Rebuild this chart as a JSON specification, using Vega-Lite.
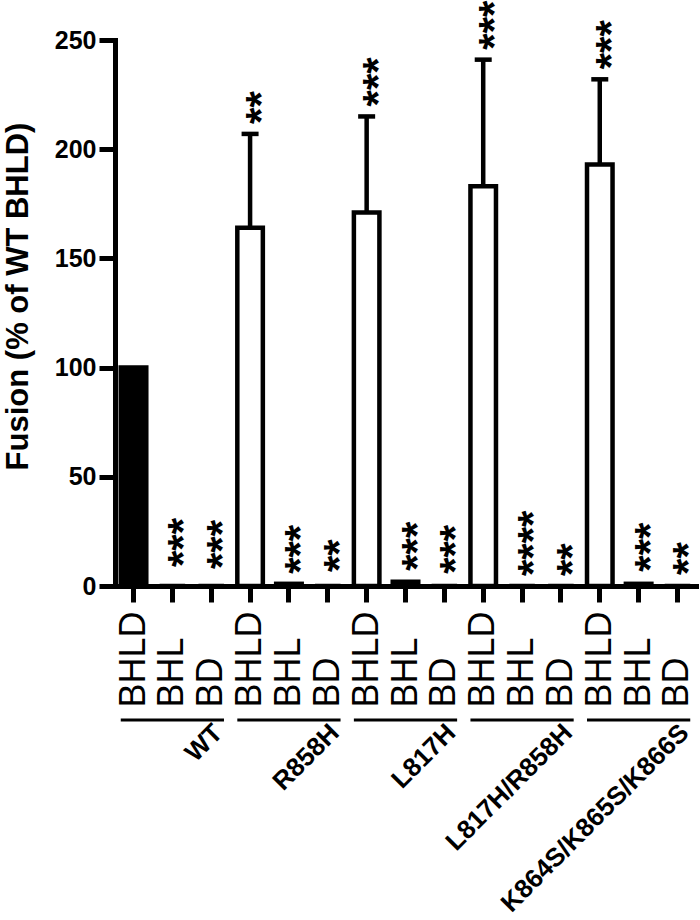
{
  "$schema": "https://vega.github.io/schema/vega-lite/v6.json",
  "width": 581,
  "height": 546,
  "autosize": {"type": "none"},
  "padding": {"left": 115, "top": 40, "right": 4, "bottom": 334},
  "background": "white",
  "config": {"view": {"stroke": null}, "font": "Liberation Sans"},
  "datasets": {
    "bars": [
      {"key": "WT|BHLD", "group": "WT", "construct": "BHLD", "mean": 100, "hi": 100, "stars": "", "control": "yes"},
      {"key": "WT|BHL", "group": "WT", "construct": "BHL", "mean": 0, "hi": 4.1, "stars": "***", "control": "no"},
      {"key": "WT|BD", "group": "WT", "construct": "BD", "mean": 0, "hi": 3.2, "stars": "***", "control": "no"},
      {"key": "R858H|BHLD", "group": "R858H", "construct": "BHLD", "mean": 164, "hi": 207, "stars": "**", "control": "no"},
      {"key": "R858H|BHL", "group": "R858H", "construct": "BHL", "mean": 1, "hi": 1, "stars": "***", "control": "no"},
      {"key": "R858H|BD", "group": "R858H", "construct": "BD", "mean": 0, "hi": 1.8, "stars": "**", "control": "no"},
      {"key": "L817H|BHLD", "group": "L817H", "construct": "BHLD", "mean": 171, "hi": 215, "stars": "***", "control": "no"},
      {"key": "L817H|BHL", "group": "L817H", "construct": "BHL", "mean": 2, "hi": 2.4, "stars": "***", "control": "no"},
      {"key": "L817H|BD", "group": "L817H", "construct": "BD", "mean": 0, "hi": 1, "stars": "***", "control": "no"},
      {"key": "L817H/R858H|BHLD", "group": "L817H/R858H", "construct": "BHLD", "mean": 183, "hi": 241, "stars": "***", "control": "no"},
      {"key": "L817H/R858H|BHL", "group": "L817H/R858H", "construct": "BHL", "mean": 0, "hi": 0, "stars": "****", "control": "no"},
      {"key": "L817H/R858H|BD", "group": "L817H/R858H", "construct": "BD", "mean": 0, "hi": 0, "stars": "**", "control": "no"},
      {"key": "K864S/K865S/K866S|BHLD", "group": "K864S/K865S/K866S", "construct": "BHLD", "mean": 193, "hi": 232, "stars": "***", "control": "no"},
      {"key": "K864S/K865S/K866S|BHL", "group": "K864S/K865S/K866S", "construct": "BHL", "mean": 1, "hi": 2, "stars": "***", "control": "no"},
      {"key": "K864S/K865S/K866S|BD", "group": "K864S/K865S/K866S", "construct": "BD", "mean": 0, "hi": 0.5, "stars": "**", "control": "no"}
    ],
    "groups": [
      {"group": "WT", "first": "WT|BHLD", "last": "WT|BD"},
      {"group": "R858H", "first": "R858H|BHLD", "last": "R858H|BD"},
      {"group": "L817H", "first": "L817H|BHLD", "last": "L817H|BD"},
      {"group": "L817H/R858H", "first": "L817H/R858H|BHLD", "last": "L817H/R858H|BD"},
      {"group": "K864S/K865S/K866S", "first": "K864S/K865S/K866S|BHLD", "last": "K864S/K865S/K866S|BD"}
    ]
  },
  "layer": [
    {
      "data": {"name": "bars"},
      "mark": {"type": "bar", "stroke": "black", "strokeWidth": 4.5},
      "encoding": {
        "x": {
          "field": "key", "type": "nominal", "sort": null,
          "scale": {
            "domain": ["WT|BHLD", "WT|BHL", "WT|BD", "R858H|BHLD", "R858H|BHL", "R858H|BD", "L817H|BHLD", "L817H|BHL", "L817H|BD", "L817H/R858H|BHLD", "L817H/R858H|BHL", "L817H/R858H|BD", "K864S/K865S/K866S|BHLD", "K864S/K865S/K866S|BHL", "K864S/K865S/K866S|BD"],
            "paddingInner": 0.343, "paddingOuter": 0.148
          },
          "axis": {
            "title": null,
            "labelExpr": "split(datum.value, '|')[1]",
            "labelAngle": 270, "labelAlign": "left", "labelBaseline": "middle",
            "labelFontSize": 36, "labelColor": "black", "labelPadding": 105,
            "labelOverlap": false, "labelBound": false, "labelFlush": false,
            "tickSize": 16, "tickWidth": 5, "tickColor": "black",
            "domainColor": "black", "domainWidth": 5, "domainCap": "square"
          }
        },
        "y": {
          "field": "mean", "type": "quantitative",
          "scale": {"domain": [0, 250], "nice": false},
          "axis": {
            "title": "Fusion (% of WT BHLD)",
            "values": [0, 50, 100, 150, 200, 250],
            "grid": false,
            "labelFontSize": 25, "labelFontWeight": "bold", "labelColor": "black", "labelPadding": 3,
            "tickSize": 16, "tickWidth": 5, "tickColor": "black",
            "domainColor": "black", "domainWidth": 5, "domainCap": "square",
            "titleFontSize": 31, "titleFontWeight": "bold", "titleColor": "black",
            "titleX": -97, "titleY": 256, "titleAngle": 270, "titleAlign": "center", "titleBaseline": "middle"
          }
        },
        "fill": {
          "field": "control", "type": "nominal",
          "scale": {"domain": ["yes", "no"], "range": ["black", "white"]},
          "legend": null
        }
      }
    },
    {
      "data": {"name": "bars"},
      "transform": [{"filter": "datum.hi > datum.mean + 5"}],
      "mark": {"type": "rule", "strokeWidth": 4.5, "color": "black"},
      "encoding": {
        "x": {"field": "key", "type": "nominal", "sort": null},
        "y": {"field": "mean", "type": "quantitative"},
        "y2": {"field": "hi"}
      }
    },
    {
      "data": {"name": "bars"},
      "transform": [{"filter": "datum.hi > datum.mean + 5"}],
      "mark": {"type": "tick", "thickness": 4.5, "size": 17, "orient": "horizontal", "color": "black", "opacity": 1},
      "encoding": {
        "x": {"field": "key", "type": "nominal", "sort": null},
        "y": {"field": "hi", "type": "quantitative"}
      }
    },
    {
      "data": {"name": "bars"},
      "mark": {"type": "text", "angle": 270, "align": "left", "baseline": "middle", "dx": 10, "dy": 12, "fontSize": 42, "fontWeight": "bold", "color": "black"},
      "encoding": {
        "x": {"field": "key", "type": "nominal", "sort": null},
        "y": {"field": "hi", "type": "quantitative"},
        "text": {"field": "stars"}
      }
    },
    {
      "data": {"name": "groups"},
      "mark": {"type": "rule", "strokeWidth": 3, "color": "black"},
      "encoding": {
        "x": {"field": "first", "type": "nominal", "bandPosition": 0},
        "x2": {"field": "last", "bandPosition": 1},
        "y": {"datum": -61.4, "type": "quantitative"}
      }
    },
    {
      "data": {"name": "groups"},
      "mark": {"type": "text", "angle": 315, "align": "right", "baseline": "alphabetic", "fontSize": 26, "fontWeight": "bold", "color": "black"},
      "encoding": {
        "x": {"field": "last", "type": "nominal", "bandPosition": 1},
        "y": {"datum": -68, "type": "quantitative"},
        "text": {"field": "group"}
      }
    }
  ]
}
